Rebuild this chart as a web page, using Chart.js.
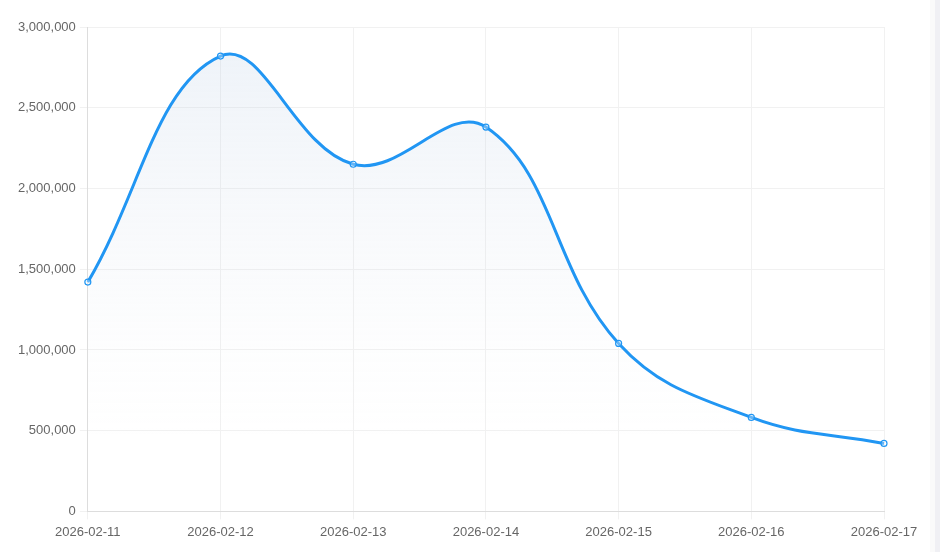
<!DOCTYPE html>
<html><head><meta charset="utf-8">
<script src="https://cdn.jsdelivr.net/npm/chart.js@4/dist/chart.umd.min.js"></script>
<style>
html,body{margin:0;padding:0;background:#fff;overflow:hidden}
#wrap{position:absolute;left:0;top:0;width:930px;height:552px}
#sb{position:absolute;left:935px;top:0;width:5px;height:552px;background:#f0f0f4}
#sb2{position:absolute;left:930px;top:0;width:5px;height:552px;background:#fafafa}
</style></head><body>
<div id="wrap"><canvas id="c"></canvas></div><div id="sb2"></div><div id="sb"></div>
<script>
const categories = ["2026-02-11","2026-02-12","2026-02-13","2026-02-14","2026-02-15","2026-02-16","2026-02-17"];
const values = [1420000, 2820000, 2150000, 2380000, 1040000, 582000, 421000];

const ctx = document.getElementById('c').getContext('2d');
new Chart(ctx, {
  type: 'line',
  data: {
    labels: categories,
    datasets: [{
      data: values,
      borderColor: '#2196F3',
      borderWidth: 3,
      tension: 0.4,
      fill: true,
      backgroundColor: (c) => {
        const a = c.chart.chartArea;
        if (!a) return 'rgba(180,200,225,0.2)';
        const g = c.chart.ctx.createLinearGradient(0, a.top, 0, a.bottom);
        g.addColorStop(0, 'rgba(180,202,228,0.24)');
        g.addColorStop(0.68, 'rgba(200,210,225,0.03)');
        g.addColorStop(0.85, 'rgba(200,210,225,0)');
        return g;
      },
      pointRadius: 3,
      pointBorderWidth: 1.2,
      pointBackgroundColor: 'rgba(255,255,255,0.3)',
      pointBorderColor: '#2196F3'
    }]
  },
  options: {
    responsive: true,
    maintainAspectRatio: false,
    animation: false,
    layout: { padding: { top: 27, right: 46, bottom: 7, left: 14 } },
    plugins: { legend: { display: false }, tooltip: { enabled: false } },
    scales: {
      x: {
        grid: { color: '#f1f1f1', tickLength: 8 },
        border: { color: '#dddddd' },
        ticks: { color: '#666', font: { family: 'Liberation Sans, Arial, sans-serif', size: 13 }, maxRotation: 0, padding: 5 }
      },
      y: {
        min: 0, max: 3000000,
        grid: { color: '#f1f1f1', tickLength: 8 },
        border: { color: '#dddddd' },
        ticks: { stepSize: 500000, color: '#666', font: { family: 'Liberation Sans, Arial, sans-serif', size: 13 },
          callback: v => v.toLocaleString('en-US'), padding: 4 }
      }
    }
  }
});
</script></body></html>
